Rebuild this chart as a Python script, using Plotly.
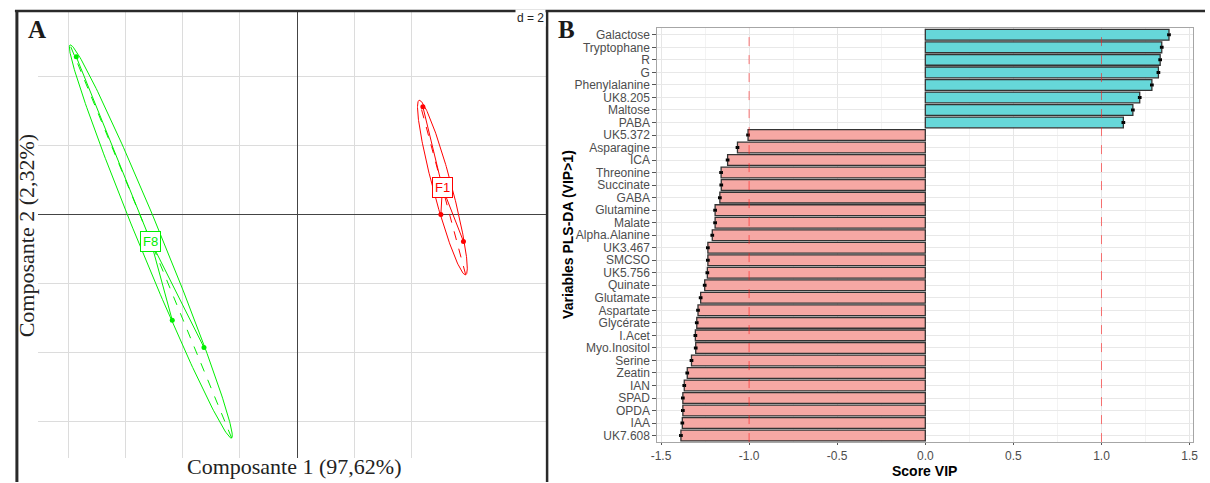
import numpy as np
import plotly.graph_objects as go

# ---------------- data ----------------
# Panel A : PLS-DA scores (Composante 1, Composante 2) per group
F8_X = [-7.73, -4.37, -3.26]
F8_Y = [4.58, -3.07, -3.86]
F1_X = [4.40, 5.03, 5.82]
F1_Y = [3.13, 0.00, -0.78]

# Panel B : VIP scores (signed)
VARIABLES = ["Galactose", "Tryptophane", "R", "G", "Phenylalanine", "UK8.205", "Maltose", "PABA",
             "UK5.372", "Asparagine", "ICA", "Threonine", "Succinate", "GABA", "Glutamine", "Malate",
             "Alpha.Alanine", "UK3.467", "SMCSO", "UK5.756", "Quinate", "Glutamate", "Aspartate",
             "Glycérate", "I.Acet", "Myo.Inositol", "Serine", "Zeatin", "IAN", "SPAD", "OPDA", "IAA",
             "UK7.608"]
VIP = [1.383, 1.342, 1.333, 1.323, 1.286, 1.217, 1.178, 1.124,
       -1.006, -1.066, -1.122, -1.159, -1.158, -1.166, -1.193, -1.193,
       -1.209, -1.234, -1.234, -1.237, -1.252, -1.275, -1.290,
       -1.297, -1.305, -1.303, -1.327, -1.351, -1.368, -1.376, -1.376, -1.379,
       -1.387]
X_TICKS = [-1.5, -1.0, -0.5, 0.0, 0.5, 1.0, 1.5]
X_TICK_TEXT = ["-1.5", "-1.0", "-0.5", "0.0", "0.5", "1.0", "1.5"]

W, H = 1210, 483


def px(x):
    return x / W


def py(y):
    return 1 - y / H


fig = go.Figure()

# ---------------- Panel A ----------------
def add_group(xs, ys, color, label, cell=1.5):
    xs = np.asarray(xs, float)
    ys = np.asarray(ys, float)
    cx, cy = xs.mean(), ys.mean()
    cov = np.cov(np.vstack([xs, ys]), bias=True)
    vals, vecs = np.linalg.eigh(cov)
    t = np.linspace(0, 2 * np.pi, 240)
    a = cell * np.sqrt(max(vals[1], 0))
    b = cell * np.sqrt(max(vals[0], 0))
    e1, e2 = vecs[:, 1], vecs[:, 0]
    ex = cx + a * np.cos(t) * e1[0] + b * np.sin(t) * e2[0]
    ey = cy + a * np.cos(t) * e1[1] + b * np.sin(t) * e2[1]
    fig.add_trace(go.Scatter(x=ex, y=ey, mode="lines", line=dict(color=color, width=1),
                             xaxis="x", yaxis="y", hoverinfo="skip"))
    # ellipse axes (dashed)
    for vec, r in ((e1, a), (e2, b)):
        fig.add_trace(go.Scatter(x=[cx - r * vec[0], cx + r * vec[0]],
                                 y=[cy - r * vec[1], cy + r * vec[1]],
                                 mode="lines", line=dict(color=color, width=1, dash="dash"),
                                 xaxis="x", yaxis="y", hoverinfo="skip"))
    # star segments
    sx, sy = [], []
    for x, y in zip(xs, ys):
        sx += [cx, x, None]
        sy += [cy, y, None]
    fig.add_trace(go.Scatter(x=sx, y=sy, mode="lines", line=dict(color=color, width=1),
                             xaxis="x", yaxis="y", hoverinfo="skip"))
    fig.add_trace(go.Scatter(x=xs, y=ys, mode="markers", marker=dict(color=color, size=5),
                             xaxis="x", yaxis="y"))
    fig.add_annotation(x=cx, y=cy, xref="x", yref="y", text=label, showarrow=False,
                       xanchor="center", yanchor="middle",
                       font=dict(family="Liberation Sans Narrow, Liberation Sans, Arial", size=13, color=color),
                       bgcolor="white", bordercolor=color, borderwidth=1, borderpad=2)


add_group(F8_X, F8_Y, "#00EE00", "F8")
add_group(F1_X, F1_Y, "#FF0000", "F1")

# ---------------- Panel B ----------------
colors = ["#66D7D9" if v > 0 else "#F6A8A4" for v in VIP]
fig.add_trace(go.Bar(x=VIP, y=VARIABLES, orientation="h", xaxis="x2", yaxis="y2",
                     width=0.86, marker=dict(color=colors, line=dict(color="#333333", width=1.3)),
                     error_x=dict(type="constant", value=0.006, color="black", thickness=1.6, width=1.5)))

for xv in (-1.0, 1.0):
    fig.add_shape(type="line", xref="x2", yref="paper", x0=xv, x1=xv,
                  y0=py(443), y1=py(28), line=dict(color="rgba(255,30,30,0.6)", width=1, dash="dash"),
                  layer="above")

grid_a = "#DCDCDC"
fig.update_layout(
    width=W, height=H, margin=dict(l=0, r=0, t=0, b=0),
    paper_bgcolor="white", plot_bgcolor="white", showlegend=False,
    bargap=0.1,
    xaxis=dict(domain=[px(31), px(545)], range=[-9.08, 8.73], tickvals=[-8, -6, -4, -2, 2, 4],
               showticklabels=False, ticks="", showgrid=True, gridcolor=grid_a, gridwidth=1,
               zeroline=True, zerolinecolor="#444444", zerolinewidth=1, showline=False, fixedrange=True),
    yaxis=dict(domain=[py(459), py(11)], range=[-7.07, 5.91], tickvals=[-6, -4, -2, 2, 4],
               showticklabels=False, ticks="", showgrid=True, gridcolor=grid_a, gridwidth=1,
               zeroline=True, zerolinecolor="#444444", zerolinewidth=1, showline=False, fixedrange=True),
    xaxis2=dict(domain=[px(657), px(1198)], range=[-1.52, 1.52], anchor="y2",
                tickvals=X_TICKS, ticktext=X_TICK_TEXT, ticks="outside", ticklen=2, tickcolor="#555555",
                tickfont=dict(family="Liberation Sans, Arial", size=12, color="#4D4D4D"),
                showgrid=True, gridcolor="#E6E6E6", gridwidth=1,
                minor=dict(dtick=0.25, tick0=0, showgrid=True, gridcolor="#F3F3F3", ticks=""),
                zeroline=False, showline=True, linecolor="#A6A6A6", linewidth=1.3, mirror=True),
    yaxis2=dict(domain=[py(443), py(28)], anchor="x2", type="category",
                categoryorder="array", categoryarray=VARIABLES, range=[32.52, -0.55],
                tickmode="array", tickvals=VARIABLES, ticktext=VARIABLES,
                ticks="outside", ticklen=4, tickcolor="#555555",
                tickfont=dict(family="Liberation Sans, Arial", size=12, color="#4D4D4D"),
                showgrid=True, gridcolor="#E8E8E8", gridwidth=1,
                zeroline=False, showline=True, linecolor="#A6A6A6", linewidth=1.3, mirror=True),
)


def note(x, y, text, size, family, color="#222222", angle=0, xanchor="center", **kw):
    fig.add_annotation(x=px(x), y=py(y), xref="paper", yref="paper", text=text, showarrow=False,
                       xanchor=xanchor, yanchor="middle", textangle=angle,
                       font=dict(family=family, size=size, color=color), **kw)


serif = "Liberation Serif, Times New Roman, serif"
sans = "Liberation Sans, Arial, sans-serif"
note(290, 467, "Composante 1 (97,62%)", 22, serif)
note(20, 236, "Composante 2 (2,32%)", 22, serif, angle=-90)
note(544, 18, "d = 2", 12, sans, xanchor="right", bgcolor="white")
note(19, 30, "<b>A</b>", 25, serif, color="#1a1a1a", xanchor="left")
note(555, 30, "<b>B</b>", 25, serif, color="#1a1a1a", xanchor="left")
note(566, 235, "<b>Variables PLS-DA (VIP>1)</b>", 14, sans, color="black", angle=-90)
note(927, 472, "<b>Score VIP</b>", 14, sans, color="black")

# frame lines
fig.add_shape(type="line", xref="paper", yref="paper", x0=px(8), x1=1, y0=py(11), y1=py(11),
              line=dict(color="#2a2a2a", width=2.5))
fig.add_shape(type="line", xref="paper", yref="paper", x0=px(10), x1=px(10), y0=0, y1=py(11),
              line=dict(color="#2a2a2a", width=3))
fig.add_shape(type="line", xref="paper", yref="paper", x0=px(545.5), x1=px(545.5), y0=0, y1=py(11),
              line=dict(color="#2a2a2a", width=2.5))

fig.write_html("out.html", config={"displayModeBar": False},
               post_script="document.body.style.margin='0';document.body.style.overflow='hidden';")
